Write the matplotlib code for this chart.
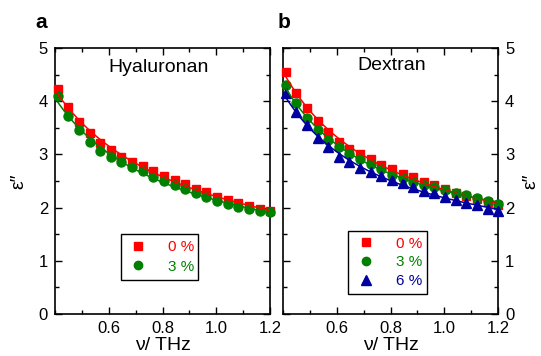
import numpy as np
import matplotlib
matplotlib.use("Agg")
import matplotlib.pyplot as plt
from matplotlib.lines import Line2D
from matplotlib.ticker import MultipleLocator

plt.rcParams['font.family'] = ['Liberation Sans', 'DejaVu Sans']

freq = [0.410, 0.450, 0.489, 0.529, 0.568, 0.608, 0.647, 0.687, 0.726, 0.766,
        0.805, 0.845, 0.884, 0.924, 0.963, 1.003, 1.042, 1.082, 1.121, 1.161, 1.200]

hya_0 = [4.23, 3.89, 3.61, 3.40, 3.22, 3.08, 2.96, 2.86, 2.78, 2.69, 2.60,
         2.52, 2.44, 2.35, 2.29, 2.20, 2.14, 2.08, 2.03, 1.97, 1.94]
hya_3 = [4.10, 3.72, 3.45, 3.23, 3.07, 2.95, 2.85, 2.76, 2.68, 2.58, 2.50,
         2.42, 2.35, 2.27, 2.19, 2.12, 2.07, 2.02, 1.97, 1.94, 1.91]

dex_0 = [4.54, 4.16, 3.88, 3.63, 3.42, 3.24, 3.10, 3.00, 2.91, 2.80, 2.72,
         2.64, 2.57, 2.49, 2.42, 2.35, 2.28, 2.22, 2.16, 2.10, 2.05]
dex_3 = [4.30, 3.96, 3.68, 3.45, 3.27, 3.13, 3.00, 2.91, 2.82, 2.72, 2.62,
         2.55, 2.49, 2.43, 2.38, 2.33, 2.28, 2.23, 2.18, 2.12, 2.07]
dex_6 = [4.15, 3.80, 3.55, 3.30, 3.13, 2.96, 2.86, 2.74, 2.66, 2.59, 2.52,
         2.46, 2.39, 2.32, 2.27, 2.20, 2.14, 2.08, 2.04, 1.97, 1.94]

labels = ['0 %', '3 %', '6 %']
colors = ['#ff0000', '#008000', '#0000a0']
markers = ['s', 'o', '^']
msizes = [6, 6.5, 7]

fig = plt.figure(figsize=(5.41, 3.56), dpi=100)
axL = fig.add_axes([55/541, 1-314/356, 215/541, 266/356])
axR = fig.add_axes([283/541, 1-314/356, 215/541, 266/356])

nu = np.asarray(freq)
grid = np.linspace(0.4, 1.2, 200)


def draw(ax, series):
    for i, s in enumerate(series):
        s = np.asarray(s)
        ax.plot(nu, s, linestyle='none', marker=markers[i], ms=msizes[i],
                color=colors[i], mec=colors[i], zorder=3 + i, clip_on=False)
    for i, s in enumerate(series):
        s = np.asarray(s)
        p = np.polyfit(np.log(nu), np.log(s), 2)
        ax.plot(grid, np.exp(np.polyval(p, np.log(grid))), color=colors[i],
                lw=1.1, zorder=10 + i)
    handles = [Line2D([], [], linestyle='none', marker=markers[i], ms=msizes[i] - 0.5,
                      color=colors[i]) for i in range(len(series))]
    return handles


def style(ax, right=False):
    ax.set_xlim(0.4, 1.2)
    ax.set_ylim(0, 5)
    ax.xaxis.set_major_locator(MultipleLocator(0.2))
    ax.xaxis.set_minor_locator(MultipleLocator(0.1))
    ax.yaxis.set_major_locator(MultipleLocator(1))
    ax.yaxis.set_minor_locator(MultipleLocator(0.5))
    ax.tick_params(which='both', direction='in', top=True, right=True,
                   left=True, bottom=True, labelsize=12, width=1)
    ax.tick_params(which='major', length=5, pad=5)
    ax.tick_params(which='minor', length=3)
    ax.set_xticks([0.6, 0.8, 1.0, 1.2])
    ax.set_xticklabels(['0.6', '0.8', '1.0', '1.2'])
    for sp in ax.spines.values():
        sp.set_linewidth(1.2)
    ax.set_xlabel('ν/ THz', fontsize=14, labelpad=1)
    if right:
        ax.yaxis.tick_right()
        ax.tick_params(which='both', left=True, right=True, labelleft=False, labelright=True)
        ax.yaxis.set_label_position('right')
        ax.set_ylabel('ε″', fontsize=14, rotation=90, labelpad=6)
    else:
        ax.set_ylabel('ε″', fontsize=14, labelpad=8)


hL = draw(axL, [hya_0, hya_3])
style(axL)
axL.text(0.48, 0.925, 'Hyaluronan', transform=axL.transAxes, fontsize=14,
         ha='center', va='center')
legL = axL.legend(hL, labels[:2], loc='lower left', bbox_to_anchor=(0.305, 0.128, 0.361, 0.172),
                  mode='expand', frameon=True, fancybox=False, edgecolor='black',
                  framealpha=1, fontsize=11, handletextpad=1.2, borderpad=0.4,
                  labelspacing=0.35, handlelength=1.5, labelcolor=colors[:2],
                  borderaxespad=0)
legL.get_frame().set_linewidth(1)

hR = draw(axR, [dex_0, dex_3, dex_6])
style(axR, right=True)
axR.text(0.505, 0.936, 'Dextran', transform=axR.transAxes, fontsize=14,
         ha='center', va='center')
legR = axR.legend(hR, labels, loc='lower left', bbox_to_anchor=(0.304, 0.075, 0.364, 0.253),
                  mode='expand', frameon=True, fancybox=False, edgecolor='black',
                  framealpha=1, fontsize=11, handletextpad=1.2, borderpad=0.4,
                  labelspacing=0.3, handlelength=1.5, labelcolor=colors,
                  borderaxespad=0)
legR.get_frame().set_linewidth(1)

fig.text(35/541, 1-28/356, 'a', fontsize=15, fontweight='bold', ha='left', va='baseline')
fig.text(278/541, 1-28/356, 'b', fontsize=15, fontweight='bold', ha='left', va='baseline')

fig.savefig('out.png', dpi=100)
